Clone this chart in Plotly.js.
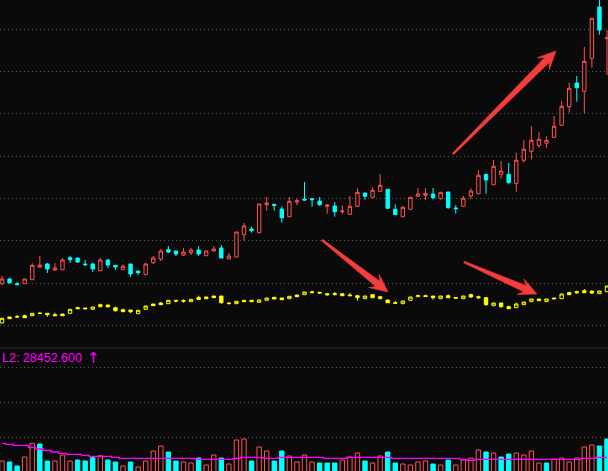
<!DOCTYPE html>
<html>
<head>
<meta charset="utf-8">
<script src="https://cdn.plot.ly/plotly-3.0.1.min.js"></script>
<style>
html,body{margin:0;padding:0;background:#0a0a0a;}
#chart{width:608px;height:471px;}
</style>
</head>
<body>
<div id="chart"></div>
<script>
// ---- data ----
const days = Array.from({length: 81}, (_, i) => i);

const priceOpen = [6.63,7.10,6.63,6.63,7.03,8.30,8.60,8.00,8.03,9.23,
 9.20,8.60,8.60,7.93,9.00,8.47,8.03,8.60,7.90,7.53,
 8.73,9.10,10.03,9.90,9.50,9.73,10.00,9.43,9.90,10.20,
 9.10,9.30,11.53,12.10,11.73,14.53,14.57,14.10,13.33,14.80,
 15.10,15.13,14.90,14.37,14.40,13.83,13.57,14.37,15.70,15.27,
 15.87,16.07,14.07,13.33,14.07,15.37,15.47,15.60,15.13,15.80,
 14.20,14.37,15.40,15.63,17.57,16.53,17.57,17.57,16.67,18.97,
 19.87,20.47,20.67,21.27,22.47,24.33,26.70,25.87,29.17,34.30,
 31.13];
const priceHigh = [7.40,7.23,6.80,7.10,8.67,9.40,8.70,8.70,9.20,9.40,
 9.20,9.00,8.70,9.20,9.10,8.47,8.57,8.60,7.90,8.70,
 9.40,10.10,10.40,9.90,10.20,10.20,10.40,9.90,10.40,10.50,
 9.70,11.80,12.70,12.33,14.60,15.30,14.60,14.37,15.30,15.17,
 16.80,15.13,15.30,14.60,14.80,14.47,15.40,16.17,15.70,16.27,
 17.60,16.07,14.57,14.40,15.27,16.20,16.20,16.20,15.77,15.80,
 14.50,15.40,16.17,18.00,17.57,19.00,18.90,18.70,19.73,20.97,
 22.37,21.77,21.37,23.40,24.90,26.73,27.40,30.30,33.17,35.30,
 32.00];
const priceLow = [6.50,6.63,6.50,6.63,7.03,8.20,7.70,7.90,8.03,8.70,
 8.70,8.40,7.80,7.93,8.20,8.00,8.03,7.30,7.50,7.53,
 8.60,8.90,9.70,9.40,9.40,9.50,9.40,9.43,9.90,9.20,
 9.10,9.30,10.93,11.73,11.73,13.93,13.93,12.73,13.33,14.47,
 14.97,14.33,14.43,13.63,13.33,13.60,13.57,14.37,15.03,15.27,
 15.87,14.17,13.53,13.33,14.07,15.37,14.97,15.07,15.03,14.13,
 13.63,14.37,15.10,15.63,15.63,16.53,17.13,16.63,15.83,18.73,
 19.07,20.23,20.23,21.27,22.47,23.73,24.83,23.67,28.23,31.53,
 27.50];
const priceClose = [7.10,6.73,6.53,7.10,8.47,8.50,8.10,8.20,9.00,9.03,
 8.80,8.53,8.10,9.00,8.50,8.30,8.37,7.60,7.73,8.60,
 9.20,9.90,9.80,9.60,9.80,10.00,9.60,9.90,10.10,9.20,
 9.40,11.80,12.40,11.93,14.60,14.70,14.47,13.23,14.87,14.93,
 15.00,15.03,14.53,14.50,13.83,13.90,14.37,15.77,15.37,15.97,
 16.47,14.17,13.53,14.27,15.27,15.60,15.67,15.23,15.77,14.23,
 14.13,15.17,15.90,17.47,17.00,18.37,17.90,16.73,18.97,20.07,
 20.97,21.07,20.97,22.37,24.37,26.17,26.23,28.87,33.17,32.00,
 31.23];

const indexOpen = [3270,3330,3335,3343,3343,3365,3367,3353,3360,3367,
 3423,3420,3407,3453,3450,3423,3403,3400,3363,3407,
 3460,3470,3463,3497,3487,3483,3525,3530,3540,3540,
 3470,3463,3497,3497,3477,3497,3527,3520,3513,3550,
 3553,3575,3577,3563,3555,3563,3550,3543,3513,3553,
 3533,3500,3473,3463,3497,3533,3543,3540,3513,3543,
 3517,3513,3553,3533,3523,3443,3470,3433,3423,3453,
 3483,3510,3483,3520,3513,3573,3583,3593,3590,3563,
 3583];
const indexHigh = [3317,3330,3350,3353,3367,3377,3367,3373,3360,3407,
 3433,3420,3430,3463,3450,3433,3413,3400,3397,3440,
 3460,3480,3497,3497,3507,3507,3543,3530,3540,3540,
 3480,3487,3497,3497,3500,3520,3527,3520,3537,3550,
 3580,3593,3577,3563,3580,3563,3570,3543,3540,3553,
 3533,3500,3490,3490,3530,3553,3553,3540,3540,3553,
 3523,3540,3563,3543,3523,3470,3470,3443,3473,3480,
 3510,3510,3510,3520,3560,3583,3593,3610,3590,3590,
 3640];
const indexLow = [3270,3313,3323,3323,3343,3363,3333,3343,3343,3367,
 3413,3403,3407,3433,3423,3383,3383,3370,3363,3407,
 3443,3453,3463,3477,3473,3483,3505,3513,3523,3463,
 3453,3463,3483,3483,3477,3497,3510,3503,3513,3533,
 3553,3563,3563,3543,3543,3543,3543,3493,3513,3523,
 3513,3473,3467,3463,3497,3533,3533,3503,3513,3523,
 3517,3513,3520,3513,3443,3443,3423,3413,3423,3453,
 3483,3493,3483,3503,3513,3553,3563,3573,3560,3563,
 3583];
const indexClose = [3317,3313,3330,3323,3367,3368,3353,3343,3343,3407,
 3413,3413,3430,3433,3433,3393,3383,3383,3397,3440,
 3443,3453,3497,3490,3493,3507,3505,3513,3523,3473,
 3465,3487,3483,3483,3500,3520,3510,3503,3537,3533,
 3580,3580,3570,3553,3563,3543,3543,3523,3540,3523,
 3513,3473,3467,3490,3530,3543,3535,3523,3540,3523,
 3523,3540,3530,3523,3453,3470,3433,3413,3460,3480,
 3510,3493,3510,3513,3560,3553,3573,3573,3570,3590,
 3640];

const volume = [19000,18000,14000,23000,36700,36000,19000,19000,25000,19000,
 20000,19000,22300,24300,20000,18000,14000,18000,13000,19000,
 29000,34000,28000,19000,18000,17000,22000,15000,25000,22000,
 16000,40000,41000,19000,33000,29000,19000,29000,24000,18000,
 25000,18000,17000,17000,17000,20000,23000,27000,19000,17000,
 24000,28000,17000,16000,15000,18000,19000,16000,15000,20000,
 15000,20000,22000,30000,28000,27000,23000,26000,27000,25000,
 29000,17000,17000,21000,22000,18000,22000,33000,35000,34000,
 41000];
const volumeUp = [1,0,0,1,1,0,0,1,1,1,
 0,0,0,1,0,0,1,0,1,1,
 1,1,0,0,1,1,0,1,1,0,
 1,1,1,0,1,1,0,0,1,1,
 1,1,0,0,0,1,1,1,0,1,
 1,0,0,1,1,1,1,0,1,0,
 1,1,1,1,0,1,0,0,1,1,
 1,1,0,1,1,1,1,1,1,0,
 0];
const volumeMA = [36700,35700,34700,34700,32500,31000,29500,28000,26700,25700,
 25700,24700,23700,23700,23700,22700,21700,21700,21700,21700,
 21700,21700,21700,21700,21700,21700,20700,20700,20700,20700,
 20700,21700,22700,22700,22700,21700,21700,22700,22700,22700,
 22700,22700,22700,21700,21700,21700,22700,22700,22700,22700,
 22700,22700,21700,21700,21700,21700,21700,21700,21700,21700,
 21700,20700,19700,20700,20700,20700,20700,20700,20700,20700,
 20700,20700,20700,20700,20700,20700,20700,21700,21700,22700,
 22700];
const labelText = 'L2: 28452.600';
const labelArrow = '↑';

// ---- styling ----
const BG = '#0a0a0a', RED = '#ff5252', CYAN = '#00ffff', YEL = '#ffff00', MAG = '#ff00ff';
const W = 608, H = 471;

const traces = [
  {type:'candlestick', x: days, open: priceOpen, high: priceHigh, low: priceLow, close: priceClose,
   xaxis:'x', yaxis:'y',
   increasing:{line:{color:RED,width:1}, fillcolor:BG},
   decreasing:{line:{color:CYAN,width:1}, fillcolor:CYAN},
   hoverinfo:'skip', showlegend:false},
  {type:'candlestick', x: days, open: indexOpen, high: indexHigh, low: indexLow, close: indexClose,
   xaxis:'x', yaxis:'y3',
   increasing:{line:{color:YEL,width:1}, fillcolor:BG},
   decreasing:{line:{color:YEL,width:1}, fillcolor:YEL},
   hoverinfo:'skip', showlegend:false},
  {type:'bar', x: days, y: volume, xaxis:'x', yaxis:'y2',
   marker:{color: volumeUp.map(u => u ? BG : CYAN),
           line:{color: volumeUp.map(u => u ? RED : CYAN), width:1}},
   hoverinfo:'skip', showlegend:false},
  {type:'scatter', mode:'lines', x: days, y: volumeMA, xaxis:'x', yaxis:'y2',
   line:{color:MAG, width:1.3, shape:'hvh'}, hoverinfo:'skip', showlegend:false}
];

// arrows (decorations) in pixel coordinates -> paper
function arrowPath(tx, ty, px, py) {
  const dx = px - tx, dy = py - ty, L = Math.hypot(dx, dy);
  const ux = dx / L, uy = dy / L, nx = -uy, ny = ux;
  const h = 18, w = 8.5, wt = 0.9, wn = 3.3, j = 13;
  const pts = [
    [tx + wt*nx, ty + wt*ny],
    [px - j*ux + wn*nx, py - j*uy + wn*ny],
    [px - h*ux + w*nx, py - h*uy + w*ny],
    [px, py],
    [px - h*ux - w*nx, py - h*uy - w*ny],
    [px - j*ux - wn*nx, py - j*uy - wn*ny],
    [tx - wt*nx, ty - wt*ny]
  ];
  return 'M ' + pts.map(p => (p[0]/W).toFixed(5) + ',' + (1 - p[1]/H).toFixed(5)).join(' L ') + ' Z';
}
const arrowDefs = [[453,154,556,51],[322,240,388,292],[464,262,537,294]];
const shapes = arrowDefs.map(a => ({
  type:'path', xref:'paper', yref:'paper', path: arrowPath(a[0],a[1],a[2],a[3]),
  fillcolor:'#f63c3c', line:{color:'#f63c3c', width:0.6}, layer:'above'
}));
shapes.push({type:'line', xref:'paper', yref:'paper', x0:0, x1:1,
  y0: 1 - 348/H, y1: 1 - 348/H, line:{color:'#333333', width:1}, layer:'below'});

const gridStyle = {showgrid:true, gridcolor:'#5a5a5a', griddash:'1px,3px', gridwidth:1,
  showticklabels:false, ticks:'', zeroline:false, showline:false, fixedrange:true};

const layout = {
  width: W, height: H,
  margin:{l:0,r:0,t:0,b:0,pad:0},
  paper_bgcolor: BG, plot_bgcolor: BG,
  showlegend:false,
  boxgap: 0.36, bargap: 0.42, barmode:'overlay',
  xaxis:{range:[-0.2645, 80.13], showgrid:false, zeroline:false, showticklabels:false,
         ticks:'', showline:false, rangeslider:{visible:false}, fixedrange:true},
  yaxis: Object.assign({domain:[1-347/H, 1], range:[0.3, 35], tick0:2.47, dtick:4.229}, gridStyle),
  yaxis3:{overlaying:'y', range:[3030, 6500], showgrid:false, showticklabels:false,
          zeroline:false, ticks:'', showline:false, fixedrange:true},
  yaxis2: Object.assign({domain:[0, 1-349/H], range:[9000, 131000], tick0:42700, dtick:35000}, gridStyle),
  shapes: shapes,
  annotations:[
    {xref:'paper', yref:'paper', x:0, y:1-357.5/H, xanchor:'left', yanchor:'middle',
     text: labelText, showarrow:false, font:{family:'Liberation Sans, Arial, sans-serif', size:12.5, color:MAG}},
    {xref:'paper', yref:'paper', x:85/W, y:1-358/H, xanchor:'left', yanchor:'middle',
     text: labelArrow, showarrow:false, font:{family:'DejaVu Sans, sans-serif', size:15, color:MAG}}
  ]
};

Plotly.newPlot('chart', traces, layout, {staticPlot:true, displayModeBar:false});
</script>
</body>
</html>
